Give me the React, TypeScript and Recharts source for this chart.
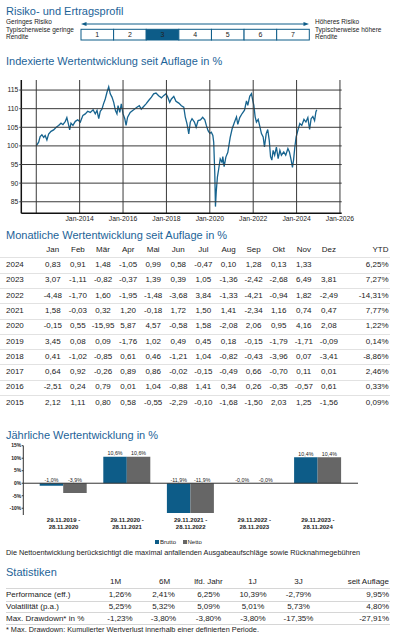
import React from 'react';
import { LineChart, Line, XAxis, YAxis, BarChart, Bar, LabelList } from 'recharts';

const FONT = '"Liberation Sans", Arial, Helvetica, sans-serif';
const TITLE_BLUE = '#1d6398';
const DARK_BLUE = '#0d5c88';
const GREY_BAR = '#666666';
const LINE_BLUE = '#17648f';
const TEXT = '#222222';
const GRID = '#3a3a3a';

// risk scale
const riskLevels = [1, 2, 3, 4, 5, 6, 7];
const riskSelected = 3;

// indexed performance since launch (decimal year, index value)
const indexSeries: [number, number][] = [
  [2012.0, 100], [2012.11, 101.0], [2012.18, 102.5], [2012.26, 103.0], [2012.34, 102.3], [2012.41, 102.8],
  [2012.49, 101.6], [2012.57, 103.2], [2012.68, 103.9], [2012.8, 104.3], [2012.92, 105.0], [2013.03, 105.5],
  [2013.14, 106.1], [2013.23, 105.7], [2013.34, 106.6], [2013.41, 107.6], [2013.48, 105.9], [2013.54, 104.3],
  [2013.6, 106.1], [2013.69, 105.5], [2013.8, 106.6], [2013.91, 107.0], [2014.03, 106.4], [2014.15, 108.2],
  [2014.26, 108.6], [2014.37, 109.3], [2014.49, 109.0], [2014.62, 109.7], [2014.72, 108.6], [2014.8, 109.5],
  [2014.88, 107.3], [2014.95, 109.3], [2015.03, 109.9], [2015.1, 111.3], [2015.18, 112.6], [2015.26, 114.4],
  [2015.34, 115.9], [2015.41, 114.0], [2015.49, 113.1], [2015.57, 111.7], [2015.65, 109.5], [2015.72, 108.6],
  [2015.77, 110.8], [2015.85, 109.0], [2015.92, 111.3], [2016.0, 108.6], [2016.08, 107.3], [2016.14, 105.5],
  [2016.21, 107.7], [2016.33, 109.0], [2016.49, 109.7], [2016.64, 110.4], [2016.75, 110.8], [2016.84, 109.9],
  [2016.95, 110.6], [2017.06, 111.3], [2017.18, 112.2], [2017.31, 113.1], [2017.41, 114.0], [2017.52, 114.2],
  [2017.64, 113.5], [2017.77, 112.9], [2017.87, 113.5], [2017.98, 114.0], [2018.06, 113.1], [2018.15, 111.7],
  [2018.23, 112.6], [2018.34, 113.3], [2018.44, 112.0], [2018.57, 111.5], [2018.69, 110.8], [2018.8, 110.4],
  [2018.87, 107.7], [2018.95, 105.9], [2019.03, 103.2], [2019.1, 106.4], [2019.18, 107.3], [2019.29, 106.4],
  [2019.37, 105.0], [2019.46, 106.8], [2019.57, 107.0], [2019.67, 107.7], [2019.77, 107.0], [2019.84, 105.5],
  [2019.92, 104.1], [2020.0, 103.4], [2020.07, 103.7], [2020.14, 102.8], [2020.18, 101.0], [2020.23, 92.5],
  [2020.26, 83.7], [2020.3, 88.0], [2020.35, 91.6], [2020.41, 93.8], [2020.48, 96.5], [2020.56, 95.6],
  [2020.6, 97.1], [2020.66, 94.4], [2020.74, 97.0], [2020.83, 98.3], [2020.94, 102.3], [2021.03, 104.6],
  [2021.14, 106.4], [2021.23, 107.8], [2021.29, 105.8], [2021.38, 107.6], [2021.49, 108.7], [2021.6, 109.6],
  [2021.69, 112.1], [2021.75, 110.9], [2021.84, 113.3], [2021.92, 114.0], [2021.98, 112.2], [2022.03, 110.9],
  [2022.09, 107.8], [2022.15, 106.4], [2022.23, 107.1], [2022.31, 105.1], [2022.38, 103.3], [2022.46, 102.4],
  [2022.52, 99.7], [2022.6, 103.3], [2022.67, 104.4], [2022.74, 101.5], [2022.8, 97.1], [2022.86, 96.2],
  [2022.92, 98.8], [2022.99, 97.5], [2023.07, 99.7], [2023.15, 96.6], [2023.23, 98.8], [2023.3, 97.5],
  [2023.41, 98.4], [2023.5, 97.5], [2023.6, 99.3], [2023.67, 98.4], [2023.75, 96.2], [2023.81, 94.2],
  [2023.86, 96.2], [2023.92, 99.7], [2023.98, 102.4], [2024.06, 104.2], [2024.15, 106.0], [2024.24, 105.5],
  [2024.34, 107.1], [2024.43, 106.4], [2024.52, 107.6], [2024.6, 104.4], [2024.67, 107.3], [2024.75, 107.9],
  [2024.83, 106.8], [2024.89, 109.1], [2024.93, 109.7],
];
const indexYTicks = [85, 90, 95, 100, 105, 110, 115];
const indexXTicks = [2012, 2014, 2016, 2018, 2020, 2022, 2024, 2026];
const INDEX_Y_MIN = 81.9;
const INDEX_Y_MAX = 117.7;
const INDEX_X_MIN = 2011.31;
const INDEX_X_MAX = 2026.08;

// monthly table
const months = ['Jan', 'Feb', 'Mär', 'Apr', 'Mai', 'Jun', 'Jul', 'Aug', 'Sep', 'Okt', 'Nov', 'Dez'];
const tableYears = [2024, 2023, 2022, 2021, 2020, 2019, 2018, 2017, 2016, 2015];
const monthly: (number | null)[][] = [
  [0.83, 0.91, 1.48, -1.05, 0.99, 0.58, -0.47, 0.10, 1.28, 0.13, 1.33, null],
  [3.07, -1.11, -0.82, -0.37, 1.39, 0.39, 1.05, -1.36, -2.42, -2.68, 6.49, 3.81],
  [-4.48, -1.70, 1.60, -1.95, -1.48, -3.68, 3.84, -1.33, -4.21, -0.94, 1.82, -2.49],
  [1.58, -0.03, 0.32, 1.20, -0.18, 1.72, 1.50, 1.41, -2.34, 1.16, 0.74, 0.47],
  [-0.15, 0.55, -15.95, 5.87, 4.57, -0.58, 1.58, -2.08, 2.06, 0.95, 4.16, 2.08],
  [3.45, 0.08, 0.09, -1.76, 1.02, 0.49, 0.45, 0.18, -0.15, -1.79, -1.71, -0.09],
  [0.41, -1.02, -0.85, 0.61, 0.46, -1.21, 1.04, -0.82, -0.43, -3.96, 0.07, -3.41],
  [0.64, 0.92, -0.26, 0.89, 0.86, -0.02, -0.15, -0.49, 0.66, -0.70, 0.11, 0.01],
  [-2.51, 0.24, 0.79, 0.01, 1.04, -0.88, 1.41, 0.34, 0.26, -0.35, -0.57, 0.61],
  [2.12, 1.11, 0.80, 0.58, -0.55, -2.29, -0.10, -1.68, -1.50, 2.03, 1.25, -1.56],
];
const ytd = [6.25, 7.27, -14.31, 7.77, 1.22, 0.14, -8.86, 2.46, 0.33, 0.09];

// yearly performance
const periodStart = ['29.11.2019', '29.11.2020', '29.11.2021', '29.11.2022', '29.11.2023'];
const periodEnd = ['28.11.2020', '28.11.2021', '28.11.2022', '28.11.2023', '28.11.2024'];
const brutto = [-1.0, 10.6, -11.9, -0.04, 10.4];
const netto = [-3.9, 10.6, -11.9, -0.02, 10.4];
const yearlyTicks = [-10, -5, 0, 5, 10, 15];
const YEARLY_MIN = -12.7;
const YEARLY_MAX = 15;

// statistics
const statCols = ['1M', '6M', 'lfd. Jahr', '1J', '3J', 'seit Auflage'];
const statRows = ['Performance (eff.)', 'Volatilität (p.a.)', 'Max. Drawdown* in %'];
const performance = [1.26, 2.41, 6.25, 10.39, -2.79, 9.95];
const volatility = [5.25, 5.32, 5.09, 5.01, 5.73, 4.80];
const drawdown = [-1.23, -3.80, -3.80, -3.80, -17.35, -27.91];

const fmt2 = (v: number) => v.toFixed(2).replace('.', ',');
const fmt1 = (v: number) => v.toFixed(1).replace('.', ',') + '%';

// plot sizes (chart size minus margins / axis widths)
const LINE_PLOT_W = 320.4;
const LINE_PLOT_H = 133.3;
const BAR_PLOT_W = 334.7;
const BAR_PLOT_H = 69.3;

function Txt({ x, y, size, children, align = 'left', color = TEXT, weight = 400 }: any) {
  const w = 320;
  const left = align === 'left' ? x : align === 'center' ? x - w / 2 : x - w;
  return (
    <div
      style={{
        position: 'absolute', left, top: y - size / 2, width: w, height: size, lineHeight: `${size}px`,
        fontSize: size, textAlign: align, color, fontWeight: weight, whiteSpace: 'nowrap',
      }}
    >
      {children}
    </div>
  );
}

function HLine({ y, x1 = 0, x2 = 390, color = '#e2e2e2' }: any) {
  return <div style={{ position: 'absolute', left: x1, top: y, width: x2 - x1, height: 1, background: color }} />;
}

// ticks that also draw the grid / axis lines
const IndexYTick = ({ x, y, payload }: any) => {
  const v = payload.value;
  if (v === INDEX_Y_MIN) {
    return <line x1={x} x2={x + LINE_PLOT_W} y1={y} y2={y} stroke="#111" strokeWidth={1.5} />;
  }
  return (
    <g>
      <line x1={x - 2} x2={x + LINE_PLOT_W} y1={y} y2={y} stroke={GRID} strokeWidth={1} />
      <text x={x - 3} y={y} dy="0.355em" textAnchor="end" fontSize={6.8} fill={TEXT}>{v}</text>
    </g>
  );
};

const IndexXTick = ({ x, y, payload }: any) => {
  const v = payload.value;
  if (v === INDEX_X_MIN) {
    return <line x1={x} x2={x} y1={y - LINE_PLOT_H} y2={y} stroke="#111" strokeWidth={1.5} />;
  }
  return (
    <g>
      <line x1={x} x2={x} y1={y - LINE_PLOT_H} y2={y} stroke={GRID} strokeWidth={1} />
      {v !== 2012 && (
        <text x={x} y={y + 2.5} dy="0.71em" textAnchor="middle" fontSize={6.8} fill={TEXT}>{`Jan-${v}`}</text>
      )}
    </g>
  );
};

const YearlyYTick = ({ x, y, payload }: any) => {
  const v = payload.value;
  if (v === YEARLY_MIN) {
    return <line x1={x} x2={x} y1={y - BAR_PLOT_H} y2={y} stroke="#333" strokeWidth={1} />;
  }
  return (
    <g>
      <line x1={x - 1.5} x2={x} y1={y} y2={y} stroke="#333" strokeWidth={1} />
      {v === 0 && <line x1={x} x2={x + BAR_PLOT_W} y1={y} y2={y} stroke="#333" strokeWidth={1} />}
      <text x={x - 2} y={y} dy="0.355em" textAnchor="end" fontSize={5} fontWeight="bold" fill={TEXT}>{`${v}%`}</text>
    </g>
  );
};

const PeriodTick = ({ x, y, payload }: any) => {
  const [a, b] = String(payload.value).split('|');
  return (
    <text x={x} y={y} textAnchor="middle" fontSize={6} fontWeight="bold" fill={TEXT}>
      <tspan x={x} dy={7.2}>{a} -</tspan>
      <tspan x={x} dy={7}>{b}</tspan>
    </text>
  );
};

const renderBarValue = (props: any) => {
  const { x, y, width, height, value } = props;
  const top = Math.min(y, y + height);
  return (
    <text x={x + width / 2} y={top - 1.5} textAnchor="middle" fontSize={5.3} fill={TEXT}>
      {fmt1(value)}
    </text>
  );
};

export default function App() {
  const lineData = indexSeries.map(([t, v]) => ({ t, v }));
  const barData = periodStart.map((s, i) => ({ period: `${s}|${periodEnd[i]}`, brutto: brutto[i], netto: netto[i] }));
  const boxW = (309.3 - 81) / riskLevels.length;
  const colX = (i: number) => 52.8 + i * 25.1;
  const rowY = (i: number) => 265 + i * 15.3;
  const statX = [120, 163.5, 208.5, 253, 298.5];
  const statHeadX = [115.5, 164.5, 208.5, 252.5, 298.5];
  const statValues = [performance, volatility, drawdown];

  return (
    <div style={{ position: 'absolute', left: 0, top: 0, width: 400, height: 643, overflow: 'hidden', background: '#fff', fontFamily: FONT }}>
      {/* Risiko- und Ertragsprofil */}
      <Txt x={6} y={11.5} size={11} color={TITLE_BLUE}>Risiko- und Ertragsprofil</Txt>
      <Txt x={6} y={22.7} size={6.5}>Geringes Risiko</Txt>
      <Txt x={6} y={30.3} size={6.5}>Typischerweise geringe</Txt>
      <Txt x={6} y={37.7} size={6.5}>Rendite</Txt>
      <Txt x={315} y={22.7} size={6.5}>Höheres Risiko</Txt>
      <Txt x={315} y={30.3} size={6.5}>Typischerweise höhere</Txt>
      <Txt x={315} y={37.7} size={6.5}>Rendite</Txt>
      <svg width={400} height={45} style={{ position: 'absolute', left: 0, top: 0 }}>
        <line x1={84} x2={306} y1={24} y2={24} stroke={DARK_BLUE} strokeWidth={1} />
        <polygon points="81,24 86.5,22 86.5,26" fill={DARK_BLUE} />
        <polygon points="309,24 303.5,22 303.5,26" fill={DARK_BLUE} />
        {riskLevels.map((r, i) => (
          <g key={r}>
            <rect x={81 + i * boxW} y={29.3} width={boxW} height={10.7}
              fill={r === riskSelected ? DARK_BLUE : '#fff'} stroke={DARK_BLUE} strokeWidth={1} />
            <text x={81 + i * boxW + boxW / 2} y={37} textAnchor="middle" fontSize={7} fill={TEXT}>{r}</text>
          </g>
        ))}
      </svg>

      {/* Indexierte Wertentwicklung */}
      <Txt x={6} y={61.3} size={11} color={TITLE_BLUE}>Indexierte Wertentwicklung seit Auflage in %</Txt>
      <div style={{ position: 'absolute', left: 0, top: 75 }}>
        <LineChart width={380} height={155} data={lineData} margin={{ top: 5, right: 38.3, bottom: 0, left: 0 }}>
          <XAxis dataKey="t" type="number" domain={[INDEX_X_MIN, INDEX_X_MAX]} ticks={[INDEX_X_MIN, ...indexXTicks]}
            allowDataOverflow height={16.7} interval={0} tickLine={false} tickSize={0} tickMargin={0}
            axisLine={false} tick={<IndexXTick />} />
          <YAxis type="number" domain={[INDEX_Y_MIN, INDEX_Y_MAX]} ticks={[INDEX_Y_MIN, ...indexYTicks]}
            allowDataOverflow width={21.3} interval={0} tickLine={false} tickSize={0} tickMargin={0}
            axisLine={false} tick={<IndexYTick />} />
          <Line type="linear" dataKey="v" stroke={LINE_BLUE} strokeWidth={1.3} dot={false} isAnimationActive={false} />
        </LineChart>
      </div>

      {/* Monatliche Wertentwicklung */}
      <Txt x={6} y={235.8} size={11} color={TITLE_BLUE}>Monatliche Wertentwicklung seit Auflage in %</Txt>
      {months.map((m, i) => (
        <Txt key={m} x={colX(i)} y={249.7} size={8} align="center">{m}</Txt>
      ))}
      <Txt x={388.5} y={249.7} size={8} align="right">YTD</Txt>
      <HLine y={257.3} />
      {tableYears.map((yr, r) => (
        <React.Fragment key={yr}>
          <Txt x={6} y={rowY(r)} size={8}>{yr}</Txt>
          {monthly[r].map((v, c) => (v === null ? null : (
            <Txt key={c} x={colX(c)} y={rowY(r)} size={8} align="center">{fmt2(v)}</Txt>
          )))}
          <Txt x={388.5} y={rowY(r)} size={8} align="right">{fmt2(ytd[r])}%</Txt>
          {r < tableYears.length - 1 && <HLine y={rowY(r) + 7.6} />}
        </React.Fragment>
      ))}

      {/* Jährliche Wertentwicklung */}
      <Txt x={6} y={435.4} size={11} color={TITLE_BLUE}>Jährliche Wertentwicklung in %</Txt>
      <div style={{ position: 'absolute', left: 0, top: 440 }}>
        <BarChart width={370} height={100} data={barData} barGap={0} barSize={23.5}
          margin={{ top: 5.7, right: 12, bottom: 0, left: 0 }}>
          <XAxis dataKey="period" height={25} padding={{ left: 8.4, right: 8.3 }} axisLine={false}
            tickLine={false} tickSize={0} tickMargin={0} interval={0} tick={<PeriodTick />} />
          <YAxis type="number" domain={[YEARLY_MIN, YEARLY_MAX]} ticks={[YEARLY_MIN, ...yearlyTicks]}
            allowDataOverflow width={23.3} interval={0} tickLine={false} tickSize={0} tickMargin={0}
            axisLine={false} tick={<YearlyYTick />} />
          <Bar dataKey="brutto" fill={DARK_BLUE} isAnimationActive={false}>
            <LabelList dataKey="brutto" content={renderBarValue} />
          </Bar>
          <Bar dataKey="netto" fill={GREY_BAR} isAnimationActive={false}>
            <LabelList dataKey="netto" content={renderBarValue} />
          </Bar>
        </BarChart>
      </div>
      <div style={{ position: 'absolute', left: 155, top: 540, width: 4, height: 4, background: DARK_BLUE }} />
      <Txt x={160} y={542} size={6}>Brutto</Txt>
      <div style={{ position: 'absolute', left: 182.7, top: 540, width: 4, height: 4, background: GREY_BAR }} />
      <Txt x={187.5} y={542} size={6}>Netto</Txt>
      <Txt x={6} y={552.5} size={7.3}>
        Die Nettoentwicklung berücksichtigt die maximal anfallenden Ausgabeaufschläge sowie Rücknahmegebühren
      </Txt>

      {/* Statistiken */}
      <Txt x={6} y={572.2} size={11} color={TITLE_BLUE}>Statistiken</Txt>
      {statCols.slice(0, 5).map((c, i) => (
        <Txt key={c} x={statHeadX[i]} y={581.8} size={8} align="center">{c}</Txt>
      ))}
      <Txt x={389} y={581.8} size={8} align="right">{statCols[5]}</Txt>
      <HLine y={587.8} x1={6} x2={390} color="#d6d6d6" />
      {statRows.map((label, r) => (
        <React.Fragment key={label}>
          <Txt x={6} y={594.8 + r * 11.85} size={8}>{label}</Txt>
          {statValues[r].slice(0, 5).map((v, c) => (
            <Txt key={c} x={statX[c]} y={594.8 + r * 11.85} size={8} align="center">{fmt2(v)}%</Txt>
          ))}
          <Txt x={389} y={594.8 + r * 11.85} size={8} align="right">{fmt2(statValues[r][5])}%</Txt>
          <HLine y={600.6 + r * 11.85} x1={6} x2={390} color="#d6d6d6" />
        </React.Fragment>
      ))}
      <Txt x={6} y={629.2} size={7.3}>* Max. Drawdown: Kumulierter Wertverlust innerhalb einer definierten Periode.</Txt>
    </div>
  );
}
